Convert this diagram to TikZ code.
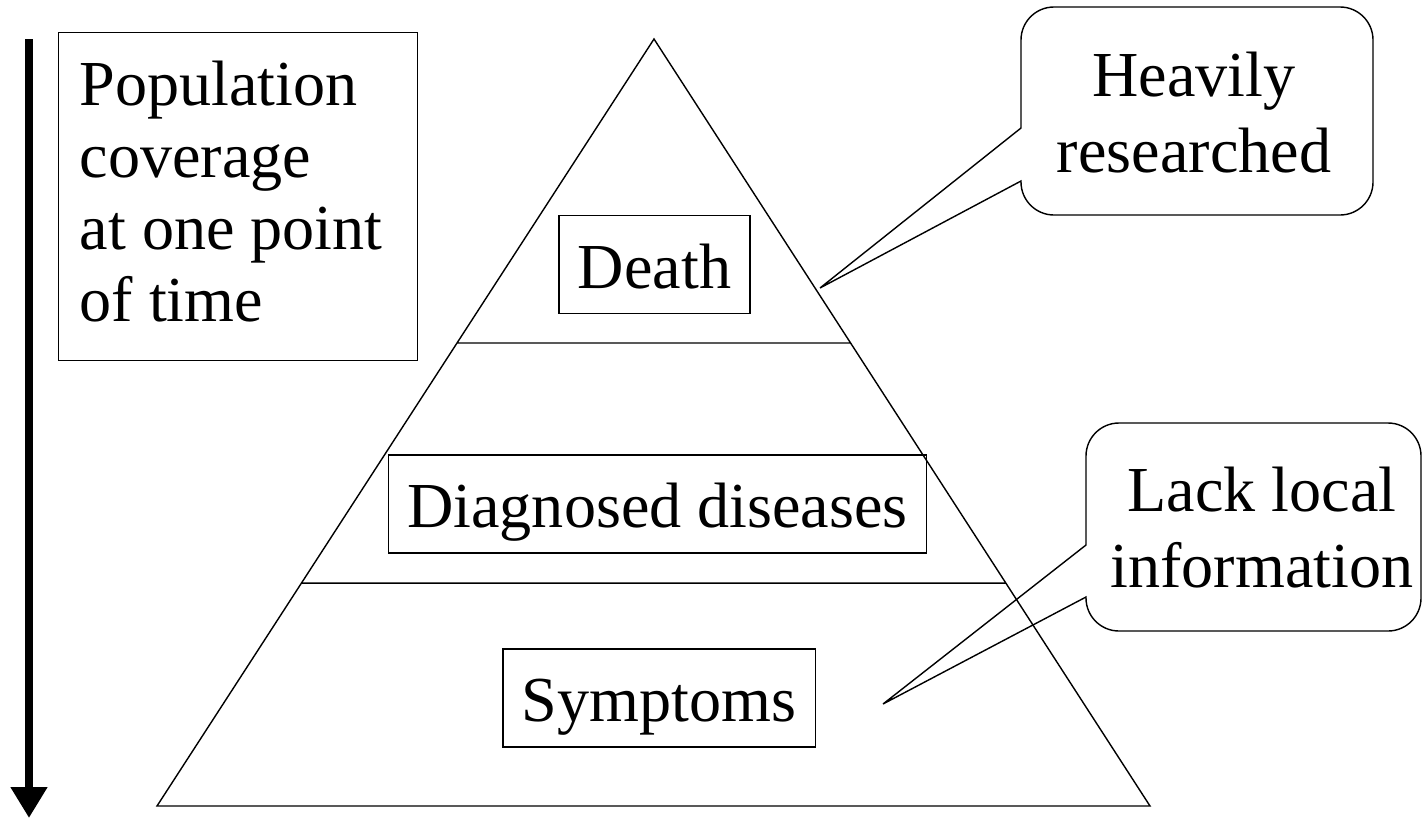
\documentclass[tikz,border=0pt]{standalone}
\usepackage{fontspec}
\setmainfont{Liberation Serif}
\usetikzlibrary{calc,arrows.meta}

\begin{document}
\begin{tikzpicture}[x=0.02cm,y=-0.02cm,line width=0.8pt,
	>={Triangle[length=0.62cm,width=0.7cm]},
	level/.style={draw,inner xsep=0.38cm,inner ysep=0pt,
		text height=41.5pt,text depth=14.2pt,
		font=\fontsize{36.5}{41}\selectfont},
	bubble/.style={align=center,font=\fontsize{36.5}{43.2}\selectfont}]

	\useasboundingbox (0,0) rectangle (1423,819);

	\coordinate (apex) at (654,39);
	\coordinate (bl) at (157,806);
	\coordinate (br) at (1150,806);

	\coordinate (arrtop) at (29,39);
	\coordinate (arrtip) at (29,818);

	\coordinate (tipH) at (820,288); % pointer of the upper bubble
	\coordinate (tipL) at (883,704); % pointer of the lower bubble

	\draw[->,line width=4.5pt] (arrtop) -- (arrtip);

	\node[draw,anchor=north west,align=flush left,
		text width=6.34cm,inner xsep=0.42cm,minimum height=6.56cm,
		font=\fontsize{36.5}{41}\selectfont] (popbox) at (58,32)
		{Population\\coverage\\at one point\\of time\rule[-5.7pt]{0pt}{0pt}};

	\draw (tipH) -- (1021,128) -- (1021,90) [rounded corners=0.66cm]
		-- (1021,7) -- (1373,7) -- (1373,215) -- (1021,215)
		[sharp corners] -- (1021,181) -- cycle;
	\draw (tipL) -- (1086,545) -- (1086,500) [rounded corners=0.66cm]
		-- (1086,423) -- (1421,423) -- (1421,631) -- (1086,631)
		[sharp corners] -- (1086,597) -- cycle;

	\node[bubble] (heavy) at (1194,112.5) {Heavily\\researched};
	\node[bubble] (lack) at (1262,527.5) {Lack local\\information};

	\draw (apex)--(bl)--(br)--cycle
		($(apex)!0.3963!(bl)$)--($(apex)!0.3963!(br)$)
		($(apex)!0.7093!(bl)$)--($(apex)!0.7093!(br)$);

	\node[level] (death) at (654.5,264.5) {Death};
	\node[level] (diag) at (657.5,504) {Diagnosed diseases};
	\node[level] (sympt) at (659,698) {Symptoms};

\end{tikzpicture}
\end{document}
